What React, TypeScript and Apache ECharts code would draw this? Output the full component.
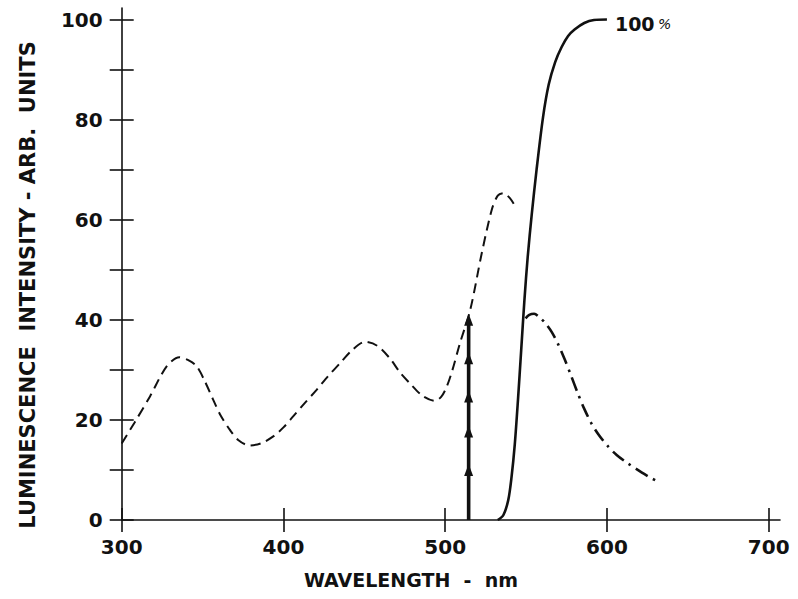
import React, { useEffect, useRef } from "react";
import * as echarts from "echarts";

// ---- data ----
const xTicks = [300, 400, 500, 600, 700];
const yTicks = [0, 10, 20, 30, 40, 50, 60, 70, 80, 90, 100];
const yLabels = [0, 20, 40, 60, 80, 100];

// excitation spectrum (dashed)
const excitation: [number, number][] = [
  [300, 15.3], [308, 19.5], [317.5, 24.7], [327.8, 30.7], [335.7, 32.5], [342, 31.8],
  [346.4, 30.7], [351, 28], [356.6, 24], [361, 21], [366.9, 18], [372, 16],
  [378.9, 14.9], [386, 15.3], [393.7, 16.7], [400, 18.5], [406, 20.7], [413, 23.3],
  [420.5, 26], [427.5, 28.7], [434.9, 31.3], [442, 33.8], [450.4, 35.6], [458, 34.8],
  [465.8, 32.3], [472, 29.5], [478.2, 27.3], [486, 24.8], [493.6, 23.8], [497.5, 24.6],
  [500.9, 26.6], [504.5, 30], [509.1, 35.3], [515.5, 42], [522.6, 53.3], [528.8, 62],
  [532.5, 64.8], [536, 65.3], [540, 64.3], [544, 62.3],
];

// transmission edge (solid), reaches 100 %
const transmission: [number, number][] = [
  [532.5, 0], [536, 1], [539, 4], [541, 8.5], [543, 15], [545, 24], [547, 34],
  [549, 44], [551, 52.5], [553.5, 61], [556.5, 70], [560.5, 80.5], [564, 87],
  [568, 91.5], [572, 94.5], [576, 96.7], [580, 98], [586, 99.3], [592, 99.9], [600, 100],
];

// emission spectrum (dash-dot)
const emission: [number, number][] = [
  [549.7, 40.3], [552, 41], [555, 41.2], [558, 40.6], [562, 39.3], [566, 37.5],
  [570, 35], [574, 32], [578, 28.7], [582, 25.3], [586, 22.2], [590.4, 19.3],
  [595, 17], [600.7, 14.7], [606, 13], [613, 11.3], [620, 9.8], [626, 8.6], [631.5, 7.7],
];

// laser line (arrow)
const laserX = 514.5;
const laserMarks = [0, 10, 17.7, 24.7, 32.3, 40];

const FONT = "DejaVu Sans";
const INK = "#111";

export default function App() {
  const ref = useRef<HTMLDivElement>(null);
  useEffect(() => {
    if (!ref.current) return;
    const chart = echarts.init(ref.current, null, { renderer: "svg" });
    const xBase = {
      type: "value" as const,
      min: 300,
      max: 707,
      splitLine: { show: false },
    };
    const yBase = {
      type: "value" as const,
      min: 0,
      max: 102.3,
      splitLine: { show: false },
    };
    chart.setOption({
      animation: false,
      backgroundColor: "#fff",
      grid: { left: 121.7, right: 18, top: 8, bottom: 79, containLabel: false },
      xAxis: [
        {
          ...xBase,
          axisLine: { show: true, onZero: false, lineStyle: { color: INK, width: 1.6 } },
          axisTick: { show: true, inside: false, length: 12, customValues: xTicks, lineStyle: { color: INK, width: 1.6 } },
          axisLabel: {
            show: true,
            customValues: xTicks,
            margin: 17,
            color: INK,
            fontFamily: FONT,
            fontWeight: "bold",
            fontSize: 20,
          },
        },
        {
          ...xBase,
          position: "bottom",
          axisLine: { show: false },
          axisTick: { show: true, inside: true, length: 12, customValues: xTicks, lineStyle: { color: INK, width: 1.6 } },
          axisLabel: { show: false },
        },
      ],
      yAxis: [
        {
          ...yBase,
          axisLine: { show: true, onZero: false, lineStyle: { color: INK, width: 1.6 } },
          axisTick: { show: true, inside: false, length: 12, customValues: yTicks, lineStyle: { color: INK, width: 1.6 } },
          axisLabel: {
            show: true,
            customValues: yLabels,
            margin: 19,
            color: INK,
            fontFamily: FONT,
            fontWeight: "bold",
            fontSize: 20,
          },
        },
        {
          ...yBase,
          position: "left",
          axisLine: { show: false },
          axisTick: { show: true, inside: true, length: 12, customValues: yTicks, lineStyle: { color: INK, width: 1.6 } },
          axisLabel: { show: false },
        },
      ],
      graphic: [
        {
          type: "text",
          x: 28,
          y: 285,
          rotation: Math.PI / 2,
          style: {
            text: "LUMINESCENCE  INTENSITY - ARB.  UNITS",
            fill: INK,
            font: `bold 21px "${FONT}"`,
            align: "center",
            verticalAlign: "middle",
          },
        },
        {
          type: "text",
          x: 411,
          y: 580,
          style: {
            text: "WAVELENGTH  -  nm",
            fill: INK,
            font: `bold 19px "${FONT}"`,
            align: "center",
            verticalAlign: "middle",
          },
        },
      ],
      series: [
        {
          type: "line",
          data: excitation,
          smooth: 0.3,
          showSymbol: false,
          symbol: "none",
          lineStyle: { color: INK, width: 2, type: [10, 6] },
        },
        {
          type: "line",
          data: transmission,
          smooth: 0.3,
          showSymbol: false,
          symbol: "none",
          lineStyle: { color: INK, width: 2.6, type: "solid" },
          endLabel: {
            show: true,
            formatter: "{a|100} {b|%}",
            distance: 8,
            offset: [0, 4],
            rich: {
              a: { fontFamily: FONT, fontWeight: "bold", fontSize: 19, color: INK },
              b: { fontFamily: FONT, fontStyle: "italic", fontSize: 14, color: INK },
            },
          },
        },
        {
          type: "line",
          data: emission,
          smooth: 0.3,
          showSymbol: false,
          symbol: "none",
          lineStyle: { color: INK, width: 2.6, type: [14, 6, 2.5, 6] },
        },
        {
          type: "line",
          data: laserMarks.map((v, i) => ({
            value: [laserX, v],
            symbol: i === 0 ? "none" : "triangle",
          })),
          symbolSize: [9, 12],
          showSymbol: true,
          itemStyle: { color: INK },
          lineStyle: { color: INK, width: 3.6 },
        },
      ],
    });
    return () => chart.dispose();
  }, []);
  return (
    <div
      ref={ref}
      style={{ position: "absolute", left: 0, top: 0, width: 798, height: 599 }}
    />
  );
}
